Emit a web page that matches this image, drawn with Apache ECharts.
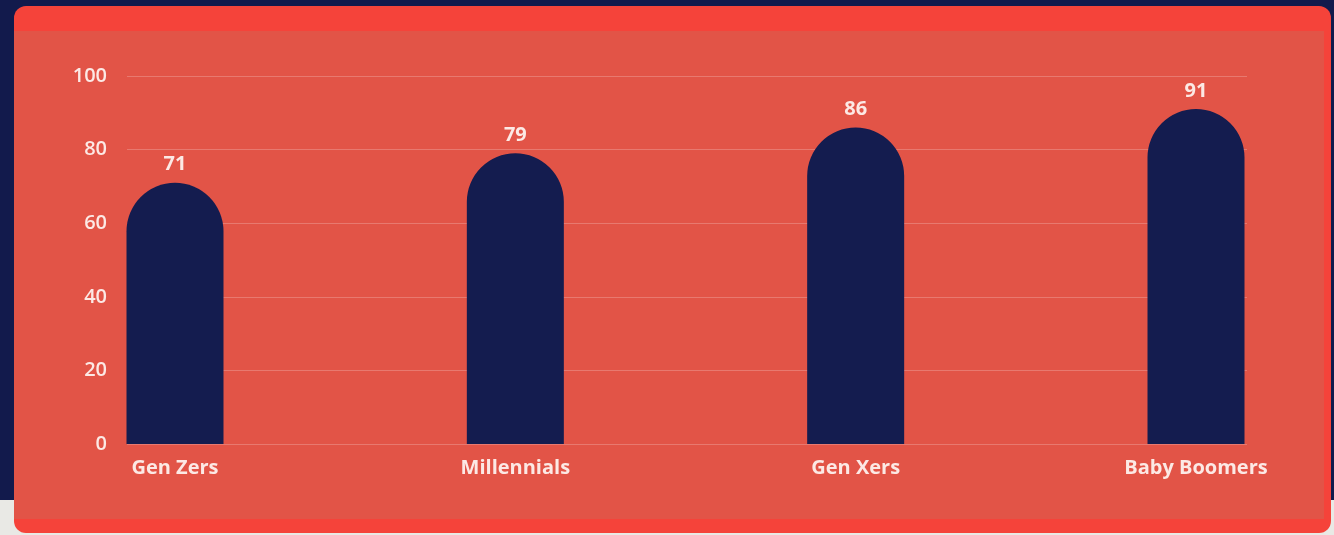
<!DOCTYPE html>
<html>
<head>
<meta charset="utf-8">
<script src="https://cdn.jsdelivr.net/npm/echarts@6/dist/echarts.min.js"></script>
<style>
  html, body { margin: 0; padding: 0; width: 1334px; height: 535px; overflow: hidden; background: #121a4c; }
  #floor { position: absolute; left: 0; top: 500px; width: 1334px; height: 35px; background: #e9e9e5; }
  #card { position: absolute; left: 14px; top: 6px; width: 1317px; height: 527px; background: #f5433a; border-radius: 12px; }
  #panel { position: absolute; left: 14px; top: 31px; width: 1310px; height: 488px; background: #e25447; }
  #chart { position: absolute; left: 0; top: 0; width: 1334px; height: 535px; }
</style>
</head>
<body>
<div id="floor"></div>
<div id="card"></div>
<div id="panel"></div>
<div id="chart"></div>
<script>
// Share of each generation (%)
const generations = ['Gen Zers', 'Millennials', 'Gen Xers', 'Baby Boomers'];
const shares = [71, 79, 86, 91];
const yTicks = [0, 20, 40, 60, 80, 100];

const textColor = '#fce9e5';
const font = '"Open Sans", Lato, sans-serif';

const chart = echarts.init(document.getElementById('chart'), null, { renderer: 'canvas' });
chart.setOption({
  animation: false,
  backgroundColor: 'transparent',
  grid: [
    { left: 127, top: 76, width: 1120, height: 368 },
    { left: 175, top: 76, width: 1021, height: 368 }
  ],
  xAxis: [
    { gridIndex: 0, type: 'value', show: false, min: 0, max: 1 },
    {
      gridIndex: 1, type: 'category', data: generations, boundaryGap: false,
      axisLine: { show: false }, axisTick: { show: false },
      axisLabel: { color: textColor, fontFamily: font, fontWeight: 700, fontSize: 20, margin: 14 }
    }
  ],
  yAxis: [
    {
      gridIndex: 0, type: 'value', min: yTicks[0], max: yTicks[yTicks.length - 1], interval: 20,
      axisLine: { show: false }, axisTick: { show: false },
      axisLabel: { color: textColor, fontFamily: font, fontWeight: 600, fontSize: 20, margin: 20 },
      splitLine: { lineStyle: { color: 'rgba(255,255,255,0.22)', width: 1 } }
    },
    { gridIndex: 1, type: 'value', min: 0, max: 100, show: false, splitLine: { show: false } }
  ],
  series: [{
    type: 'bar',
    xAxisIndex: 1,
    yAxisIndex: 1,
    data: shares,
    barWidth: 97,
    itemStyle: { color: '#141c4f', borderRadius: [48.5, 48.5, 0, 0] },
    label: {
      show: true, position: 'top', distance: 8,
      color: textColor, fontFamily: font, fontWeight: 700, fontSize: 20
    }
  }]
});
</script>
</body>
</html>
